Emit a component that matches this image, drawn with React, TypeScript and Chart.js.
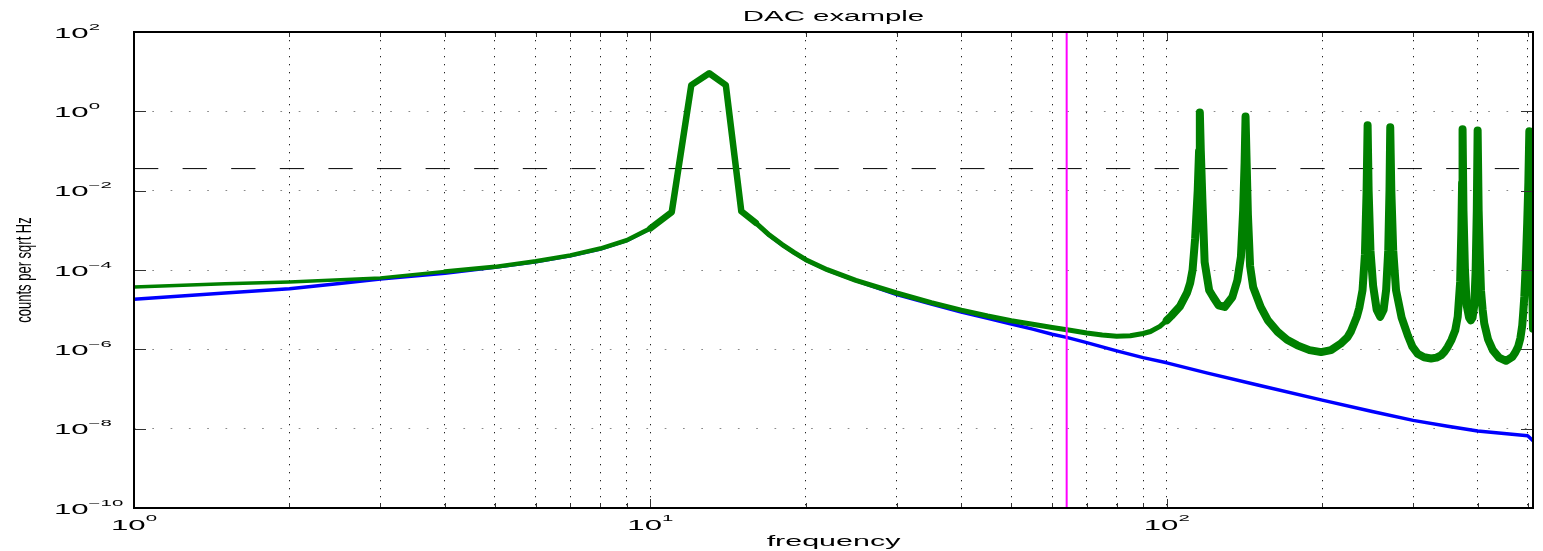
import { useEffect, useRef } from 'react';
import { Chart, registerables } from 'chart.js';

Chart.register(...registerables);

// ---- data ----
const chartTitle = 'DAC example';
const xAxisTitle = 'frequency';
const yAxisTitle = 'counts per sqrt Hz';

// plant response (blue)
const blueFreq = [1, 1.5, 2, 2.5, 3, 4, 5, 6, 7, 8, 9, 10, 11, 12, 13, 14, 15, 16, 17, 18, 19, 20, 22, 25, 30, 35, 40, 45, 50, 55, 60, 64, 70, 80, 90, 100, 120, 150, 200, 250, 300, 350, 400, 450, 500, 512];
const blueVal = [1.82e-5, 2.63e-5, 3.39e-5, 4.57e-5, 5.89e-5, 8.32e-5, 1.17e-4, 1.62e-4, 2.29e-4, 3.39e-4, 5.5e-4, 1.1e-3, 2.88e-3, 4.57, 9.12, 4.57, 3.02e-3, 1.51e-3, 7.41e-4, 4.27e-4, 2.69e-4, 1.78e-4, 1.0e-4, 5.37e-5, 2.4e-5, 1.38e-5, 8.71e-6, 6.03e-6, 4.37e-6, 3.24e-6, 2.4e-6, 2.0e-6, 1.48e-6, 9.12e-7, 6.17e-7, 4.57e-7, 2.51e-7, 1.26e-7, 5.25e-8, 2.72e-8, 1.62e-8, 1.15e-8, 8.71e-9, 7.59e-9, 6.61e-9, 5.01e-9];

// response including violin modes (green)
const greenFreq = [
  1, 1.5, 2, 3, 4, 5, 6, 7, 8, 9, 10, 11, 12, 13, 14, 15, 16, 17, 18, 19, 20, 22, 25, 30, 35, 40, 45, 50, 55, 60, 65, 70, 75, 80, 85, 90, 93, 97, 100,
  102, 106, 109.5, 111, 112.2, 113.5, 114.8, 115.5, 115.9, 116.4, 117.2, 118.4, 120.8, 123, 126, 129.5, 134, 137, 139.2, 140.6, 141.5, 142.1, 142.8, 143.6, 145, 147,
  152, 157, 164, 171, 179, 189, 199, 208, 217, 224, 227.5, 230.6, 233.5, 236, 239.4, 242, 243.8, 244.9, 246, 248, 251, 255, 259, 263, 266, 268.5, 270, 270.9, 272.2, 274.5, 278,
  285, 293, 299, 306, 315, 325, 333, 340, 345, 350, 356, 362, 366, 370, 372, 373.2, 374, 375.5, 378, 381, 385, 388, 391, 394, 396.5, 398.5, 400, 401.8, 404, 406,
  409, 412, 419, 428, 440, 454, 467, 473, 479, 484, 488, 490, 492.5, 496, 499, 501.5, 503.7, 506, 508, 510, 512,
];
const greenVal = [
  3.72e-5, 4.47e-5, 5.01e-5, 6.31e-5, 9.12e-5, 1.2e-4, 1.66e-4, 2.34e-4, 3.47e-4, 5.62e-4, 1.12e-3, 2.88e-3, 4.57, 9.12, 4.57, 3.02e-3, 1.55e-3, 7.59e-4, 4.37e-4, 2.75e-4, 1.82e-4, 1.02e-4, 5.5e-5, 2.63e-5, 1.51e-5, 9.77e-6, 6.92e-6, 5.25e-6, 4.27e-6, 3.55e-6, 3.02e-6, 2.57e-6, 2.29e-6, 2.14e-6, 2.19e-6, 2.51e-6, 2.82e-6, 3.8e-6, 5.37e-6,
  6.92e-6, 1.2e-5, 2.69e-5, 4.68e-5, 1.0e-4, 6.31e-4, 1.0e-2, 0.1, 0.93, 0.1, 6.31e-3, 1.58e-4, 3.09e-5, 2.09e-5, 1.29e-5, 1.17e-5, 2.09e-5, 5.5e-5, 2.14e-4, 3.16e-3, 5.01e-2, 0.74, 5.01e-2, 2.51e-3, 1.26e-4, 3.72e-5,
  1.17e-5, 5.37e-6, 2.75e-6, 1.74e-6, 1.26e-6, 9.55e-7, 8.51e-7, 9.55e-7, 1.38e-6, 2.04e-6, 2.88e-6, 4.47e-6, 6.76e-6, 1.12e-5, 3.09e-5, 2.51e-4, 1.0e-2, 0.447, 1.0e-2, 3.16e-4, 3.98e-5, 1.0e-5, 6.61e-6, 1.0e-5, 3.16e-5, 3.16e-4, 1.0e-2, 0.398, 1.0e-2, 3.16e-4, 3.09e-5,
  6.31e-6, 2.24e-6, 1.17e-6, 7.76e-7, 6.31e-7, 5.89e-7, 6.17e-7, 7.08e-7, 8.71e-7, 1.15e-6, 1.74e-6, 3.02e-6, 6.61e-6, 5.01e-5, 1.0e-3, 1.58e-2, 0.355, 3.16e-3, 1.0e-4, 1.26e-5, 6.31e-6, 5.37e-6, 6.31e-6, 1.26e-5, 1.0e-4, 3.16e-3, 0.331, 3.16e-3, 2.0e-4, 3.09e-5,
  1.0e-5, 4.47e-6, 1.78e-6, 9.55e-7, 6.17e-7, 5.13e-7, 6.46e-7, 8.32e-7, 1.15e-6, 1.91e-6, 3.98e-6, 7.94e-6, 2.09e-5, 1.58e-4, 1.58e-3, 1.58e-2, 0.316, 1.58e-2, 1.0e-3, 5.01e-5, 3.31e-6,
];

const dacLimit = 0.036;
const markerFreq = 64;

const xMin = 1;
const xMax = 512;
const yMin = 1e-10;
const yMax = 1e2;

const xTickPowers = [0, 1, 2];
const yTickPowers = [-10, -8, -6, -4, -2, 0, 2];
const minorMultipliers = [1, 2, 3, 4, 5, 6, 7, 8, 9];

// ---- drawing helpers ----
const FONT = '"Liberation Sans", Arial, Helvetica, sans-serif';

function stretchedText(ctx: CanvasRenderingContext2D, text: string, x: number, y: number, size: number, sx: number, align: CanvasTextAlign) {
  ctx.save();
  ctx.translate(x, y);
  ctx.scale(sx, 1);
  ctx.font = `${size}px ${FONT}`;
  ctx.textAlign = align;
  ctx.textBaseline = 'alphabetic';
  ctx.fillText(text, 0, 0);
  ctx.restore();
}

const BASE_SIZE = 14.5;
const BASE_SX = 2.15;
const EXP_SIZE = 8.5;
const EXP_SX = 2.4;

function expText(p: number) {
  return p < 0 ? '\u2212' + Math.abs(p) : String(p);
}

function powerWidths(ctx: CanvasRenderingContext2D, p: number) {
  ctx.font = `${BASE_SIZE}px ${FONT}`;
  const wb = ctx.measureText('10').width * BASE_SX;
  ctx.font = `${EXP_SIZE}px ${FONT}`;
  const we = ctx.measureText(expText(p)).width * EXP_SX;
  return { wb, we };
}

function drawPower(ctx: CanvasRenderingContext2D, p: number, left: number, baseY: number, expY: number) {
  const { wb } = powerWidths(ctx, p);
  stretchedText(ctx, '10', left, baseY, BASE_SIZE, BASE_SX, 'left');
  stretchedText(ctx, expText(p), left + wb, expY, EXP_SIZE, EXP_SX, 'left');
}

function greenWidth(f: number) {
  if (f < 4) return 3.5;
  if (f < 10) return 4.5;
  if (f < 16) return 6.5;
  if (f < 100) return 5;
  return 8;
}

const axesDecor = {
  id: 'axesDecor',
  afterDraw(chart: any) {
    const ctx: CanvasRenderingContext2D = chart.ctx;
    const { left, right, top, bottom } = chart.chartArea;
    const xs = chart.scales.x;
    const ys = chart.scales.y;
    ctx.save();

    // tick marks
    ctx.strokeStyle = '#333';
    ctx.lineWidth = 1;
    ctx.beginPath();
    yTickPowers.forEach((p) => {
      const y = Math.round(ys.getPixelForValue(Math.pow(10, p))) + 0.5;
      ctx.moveTo(left, y); ctx.lineTo(left + 12, y);
      ctx.moveTo(right, y); ctx.lineTo(right - 12, y);
    });
    xTickPowers.forEach((p) => {
      minorMultipliers.forEach((m) => {
        const v = m * Math.pow(10, p);
        if (v > xMax) return;
        const x = Math.round(xs.getPixelForValue(v)) + 0.5;
        const len = m === 1 ? 9 : 5;
        ctx.moveTo(x, bottom); ctx.lineTo(x, bottom - len);
        ctx.moveTo(x, top); ctx.lineTo(x, top + len);
      });
    });
    ctx.stroke();

    // frame
    ctx.strokeStyle = '#000';
    ctx.lineWidth = 2;
    ctx.strokeRect(left, top, right - left, bottom - top);

    // tick labels
    ctx.fillStyle = '#000';
    yTickPowers.forEach((p) => {
      const y = ys.getPixelForValue(Math.pow(10, p));
      drawPower(ctx, p, 54, y + 5.8, y - 2.5);
    });
    xTickPowers.forEach((p) => {
      const x = xs.getPixelForValue(Math.pow(10, p));
      const { wb, we } = powerWidths(ctx, p);
      drawPower(ctx, p, x - (wb + we) / 2, bottom + 22, bottom + 13);
    });

    // titles
    const cx = (left + right) / 2;
    stretchedText(ctx, chartTitle, cx, 21, 14, 2.1, 'center');
    stretchedText(ctx, xAxisTitle, cx, bottom + 38, 14.5, 2.1, 'center');

    ctx.save();
    ctx.translate(25, (top + bottom) / 2);
    ctx.rotate(-Math.PI / 2);
    ctx.scale(1, 1.7);
    ctx.font = `13px ${FONT}`;
    ctx.textAlign = 'center';
    ctx.textBaseline = 'middle';
    ctx.fillText(yAxisTitle, 0, 0);
    ctx.restore();

    ctx.restore();
  },
};

function xGridValues() {
  const out: number[] = [];
  xTickPowers.forEach((p) => {
    minorMultipliers.forEach((m) => {
      const v = m * Math.pow(10, p);
      if (v <= xMax) out.push(v);
    });
  });
  return out;
}

export default function App() {
  const ref = useRef<HTMLCanvasElement>(null);

  useEffect(() => {
    if (!ref.current) return;
    const chart = new Chart(ref.current, {
      type: 'line',
      data: {
        datasets: [
          {
            label: 'limit',
            data: [{ x: xMin, y: dacLimit }, { x: xMax, y: dacLimit }],
            borderColor: '#000000',
            borderWidth: 1,
            borderDash: [24.3, 24.3],
            pointRadius: 0,
            order: 3,
          },
          {
            label: 'plant',
            data: blueFreq.map((f, i) => ({ x: f, y: blueVal[i] })),
            borderColor: '#0000ff',
            borderWidth: 3.5,
            borderJoinStyle: 'round',
            borderCapStyle: 'round',
            pointRadius: 0,
            order: 2,
          },
          {
            label: 'with modes',
            data: greenFreq.map((f, i) => ({ x: f, y: greenVal[i] })),
            borderColor: '#008000',
            borderWidth: 5,
            borderJoinStyle: 'round',
            borderCapStyle: 'round',
            pointRadius: 0,
            order: 1,
            segment: {
              borderWidth: (c: any) => greenWidth(c.p0.parsed.x),
            },
          },
          {
            label: 'marker',
            data: [{ x: markerFreq, y: yMin }, { x: markerFreq, y: yMax }],
            borderColor: '#ff00ff',
            borderWidth: 2,
            pointRadius: 0,
            order: 0,
          },
        ] as any,
      },
      options: {
        responsive: false,
        animation: false,
        events: [],
        layout: { padding: { left: 134, right: 10, top: 32, bottom: 43 } },
        plugins: {
          legend: { display: false },
          tooltip: { enabled: false },
          title: { display: false },
        },
        scales: {
          x: {
            type: 'logarithmic',
            min: xMin,
            max: xMax,
            afterBuildTicks: (s: any) => {
              s.ticks = xGridValues().map((v) => ({ value: v }));
            },
            afterFit: (s: any) => { s.height = 0; },
            ticks: { display: false },
            grid: { color: '#222', lineWidth: 1, drawTicks: false },
            border: { display: false, dash: [1.3, 6.7] },
          },
          y: {
            type: 'logarithmic',
            min: yMin,
            max: yMax,
            afterBuildTicks: (s: any) => {
              s.ticks = yTickPowers.map((p) => ({ value: Math.pow(10, p) }));
            },
            afterFit: (s: any) => { s.width = 0; },
            ticks: { display: false },
            grid: { color: '#888', lineWidth: 1, drawTicks: false },
            border: { display: false, dash: [1.7, 16.6] },
          },
        },
      } as any,
      plugins: [axesDecor],
    });
    return () => chart.destroy();
  }, []);

  return (
    <canvas
      ref={ref}
      width={1543}
      height={551}
      style={{ position: 'absolute', left: 0, top: 0, display: 'block' }}
    />
  );
}
